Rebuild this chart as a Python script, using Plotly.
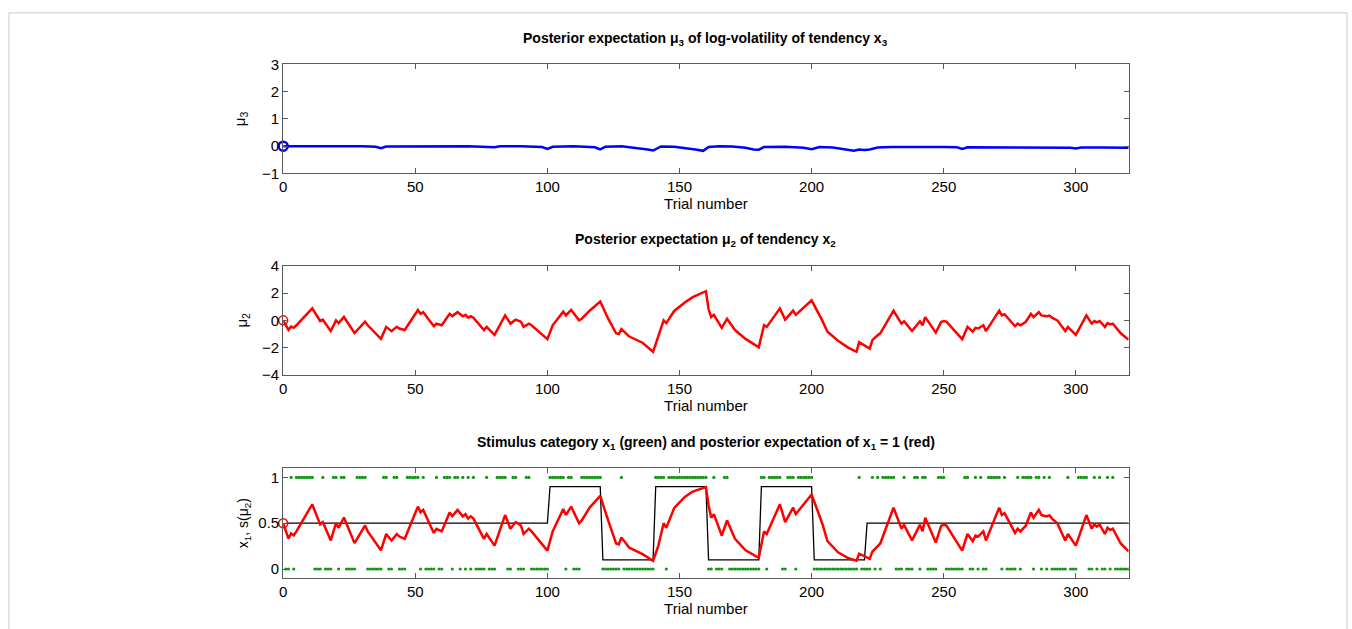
import numpy as np
import plotly.graph_objects as go

# ---------------- data ----------------
trial_ticks = [0, 50, 100, 150, 200, 250, 300]

# posterior expectation mu3 (top panel), read at these trials
mu3_trials = [0, 10, 20, 30, 35, 37, 39, 50, 60, 70, 80, 82, 90, 98, 100, 102, 110, 118, 120, 122,
              128, 133, 138, 140, 143, 148, 152, 156, 159, 161, 165, 170, 175, 178, 180, 182, 190,
              197, 200, 203, 208, 212, 216, 218, 220, 222, 225, 230, 240, 250, 255, 257, 259, 270,
              280, 290, 298, 300, 302, 310, 320]
mu3_values = [0.0, 0.0, 0.01, 0.0, -0.02, -0.07, -0.01, 0.0, 0.01, 0.0, -0.04, 0.0, 0.0, -0.03, -0.10,
              -0.02, 0.0, -0.04, -0.12, -0.02, 0.0, -0.05, -0.12, -0.16, -0.01, -0.02, -0.06, -0.12,
              -0.17, -0.03, 0.0, -0.01, -0.06, -0.12, -0.13, -0.03, -0.02, -0.06, -0.11, -0.03, -0.05,
              -0.10, -0.17, -0.12, -0.14, -0.12, -0.05, -0.03, -0.02, -0.03, -0.04, -0.10, -0.04,
              -0.04, -0.05, -0.05, -0.06, -0.08, -0.05, -0.05, -0.06]

# posterior expectation mu2 (middle panel), read at these trials
mu2_trials = [0, 2, 3, 4, 5, 11, 14, 15, 18, 20, 21, 23, 27, 31, 32, 37, 39, 41, 43, 44, 46, 51, 52,
              53, 57, 58, 60, 63, 64, 66, 68, 69, 70, 71, 72, 76, 77, 80, 84, 86, 88, 90, 91, 93, 94,
              100, 102, 106, 107, 109, 112, 113, 116, 120, 123, 126, 127, 128, 131, 136, 140, 142,
              144, 145, 148, 152, 155, 160, 161, 162, 163, 166, 168, 171, 175, 180, 182, 183, 188,
              190, 193, 194, 200, 204, 206, 210, 214, 217, 218, 222, 223, 225, 226, 231, 234, 235,
              238, 241, 242, 243, 247, 249, 250, 251, 257, 259, 261, 262, 263, 265, 266, 271, 272,
              273, 277, 278, 279, 281, 283, 284, 286, 287, 289, 290, 291, 293, 296, 297, 300, 304,
              306, 307, 308, 309, 311, 312, 313, 314, 317, 320]
mu2_values = [0.0, -0.70, -0.45, -0.55, -0.36, 0.88, -0.05, 0.05, -0.79, 0.0, -0.20, 0.25, -0.93,
              -0.10, -0.36, -1.36, -0.48, -0.79, -0.48, -0.60, -0.71, 0.76, 0.48, 0.60, -0.43, -0.25,
              -0.36, 0.48, 0.31, 0.60, 0.30, 0.40, 0.20, 0.30, 0.20, -0.71, -0.48, -1.07, 0.36, -0.24,
              0.05, -0.10, -0.48, -0.24, -0.36, -1.38, -0.36, 0.64, 0.36, 0.76, 0.0, 0.12, 0.71, 1.38,
              0.12, -0.95, -1.00, -0.64, -1.19, -1.64, -2.31, -1.07, 0.0, -0.20, 0.69, 1.31, 1.70,
              2.14, 0.83, 0.24, 0.40, -0.55, 0.12, -0.71, -1.36, -1.98, -0.36, -0.48, 0.88, 0.05,
              0.71, 0.40, 1.47, 0.0, -0.83, -1.50, -2.02, -2.31, -1.60, -2.07, -1.45, -1.10, -0.95,
              0.71, -0.24, -0.07, -0.79, -0.07, -0.36, 0.24, -0.90, -0.12, -0.05, -0.10, -1.38,
              -0.48, -0.83, -0.55, -0.60, -0.36, -0.79, 0.71, 0.36, 0.45, -0.43, -0.24, -0.36,
              -0.12, 0.48, 0.24, 0.60, 0.36, 0.30, 0.35, 0.20, 0.0, -0.79, -0.48, -1.07, 0.36, -0.24,
              -0.05, -0.15, -0.05, -0.48, -0.20, -0.30, -0.24, -0.95, -1.43]

# stimulus category x1 (green dots), trials 1..320
inputs_u = [
    0, 0, 1, 0, 1, 1, 1, 1, 1, 1,
    1, 0, 0, 0, 1, 0, 0, 0, 1, 1,
    0, 1, 1, 0, 0, 0, 0, 1, 1, 1,
    1, 0, 0, 0, 0, 0, 0, 1, 1, 0,
    0, 1, 1, 0, 0, 0, 1, 1, 1, 1,
    1, 0, 1, 0, 0, 0, 0, 1, 0, 0,
    1, 1, 1, 0, 1, 1, 0, 1, 0, 1,
    0, 1, 0, 0, 0, 0, 1, 0, 0, 0,
    1, 1, 1, 1, 0, 0, 1, 1, 0, 0,
    0, 1, 1, 0, 0, 0, 0, 0, 0, 0,
    1, 1, 1, 1, 1, 1, 0, 1, 1, 0,
    0, 0, 1, 1, 1, 1, 1, 1, 1, 1,
    0, 0, 0, 0, 0, 0, 0, 1, 0, 0,
    0, 0, 0, 0, 0, 0, 0, 0, 0, 0,
    1, 1, 1, 1, 0, 1, 1, 1, 1, 1,
    1, 1, 1, 1, 1, 1, 1, 1, 1, 1,
    0, 0, 1, 0, 0, 0, 1, 1, 0, 0,
    0, 0, 0, 0, 0, 0, 0, 0, 0, 0,
    1, 1, 0, 1, 1, 1, 1, 1, 0, 0,
    1, 1, 1, 0, 1, 1, 1, 1, 1, 1,
    0, 0, 0, 0, 0, 0, 0, 0, 0, 0,
    0, 0, 0, 0, 0, 0, 0, 1, 0, 0,
    0, 0, 1, 0, 1, 0, 1, 1, 1, 1,
    1, 0, 0, 0, 1, 0, 0, 0, 1, 1,
    0, 1, 1, 0, 0, 0, 0, 1, 1, 1,
    0, 0, 0, 0, 0, 0, 0, 1, 1, 0,
    0, 1, 0, 1, 0, 0, 1, 1, 1, 1,
    1, 0, 1, 0, 0, 0, 0, 1, 0, 1,
    1, 1, 1, 0, 1, 1, 0, 1, 0, 1,
    0, 0, 0, 0, 0, 0, 1, 0, 0, 0,
    1, 1, 1, 1, 0, 0, 1, 0, 1, 0,
    0, 1, 0, 1, 0, 0, 0, 0, 0, 0,
]

# true probability of x1 = 1 (black line), in blocks
block_lengths = [100, 20, 20, 20, 20, 20, 20, 100]
block_probs = [0.5, 0.9, 0.1, 0.9, 0.1, 0.9, 0.1, 0.5]

# ---------------- derived ----------------
u_trials = np.arange(1, len(inputs_u) + 1)
prob_trials = np.arange(1, sum(block_lengths) + 1)
prob_values = np.repeat(block_probs, block_lengths)
s_mu2 = 1.0 / (1.0 + np.exp(-np.array(mu2_values)))

W, H = 1352, 629
def px_x(p): return p / W
def px_y(p): return 1 - p / H

dom_x = [px_x(280), px_x(1128)]
dom_top = [px_y(169), px_y(57)]
dom_mid = [px_y(376), px_y(264)]
dom_bot = [px_y(585), px_y(472)]

FONT = "Liberation Sans, Arial, sans-serif"

fig = go.Figure()

fig.add_trace(go.Scatter(x=mu3_trials, y=mu3_values, mode="lines",
                         line=dict(color="rgb(0,0,255)", width=2.5),
                         xaxis="x", yaxis="y", showlegend=False))
fig.add_trace(go.Scatter(x=[mu3_trials[0]], y=[mu3_values[0]], mode="markers",
                         marker=dict(symbol="circle-open", size=9, color="rgb(0,0,255)",
                                     line=dict(width=2.5)),
                         cliponaxis=False, xaxis="x", yaxis="y", showlegend=False))

fig.add_trace(go.Scatter(x=mu2_trials, y=mu2_values, mode="lines",
                         line=dict(color="rgb(255,0,0)", width=2.5),
                         xaxis="x2", yaxis="y2", showlegend=False))
fig.add_trace(go.Scatter(x=[mu2_trials[0]], y=[mu2_values[0]], mode="markers",
                         marker=dict(symbol="circle-open", size=9, color="rgb(255,0,0)",
                                     line=dict(width=1.5)),
                         cliponaxis=False, xaxis="x2", yaxis="y2", showlegend=False))

fig.add_trace(go.Scatter(x=prob_trials, y=prob_values, mode="lines",
                         line=dict(color="black", width=1.3),
                         xaxis="x3", yaxis="y3", showlegend=False))
fig.add_trace(go.Scatter(x=u_trials, y=inputs_u, mode="markers",
                         marker=dict(symbol="circle", size=3.2, color="rgb(20,150,20)"),
                         xaxis="x3", yaxis="y3", showlegend=False))
fig.add_trace(go.Scatter(x=mu2_trials, y=s_mu2, mode="lines",
                         line=dict(color="rgb(255,0,0)", width=2.5),
                         xaxis="x3", yaxis="y3", showlegend=False))
fig.add_trace(go.Scatter(x=[mu2_trials[0]], y=[s_mu2[0]], mode="markers",
                         marker=dict(symbol="circle-open", size=9, color="rgb(255,0,0)",
                                     line=dict(width=1.5)),
                         cliponaxis=False, xaxis="x3", yaxis="y3", showlegend=False))

axis_common = dict(showline=True, linecolor="rgb(90,90,90)", linewidth=1, mirror="ticks",
                   ticks="inside", ticklen=5, tickcolor="rgb(90,90,90)", showgrid=False,
                   zeroline=False, tickfont=dict(family=FONT, size=15, color="black"))

def xax(domain, anchor):
    return dict(axis_common, domain=domain, anchor=anchor, range=[0, 320],
                tickvals=trial_ticks, ticktext=[str(t) for t in trial_ticks],
                title=dict(text="Trial number", font=dict(family=FONT, size=15, color="black"),
                           standoff=2))

fig.update_layout(
    width=W, height=H, margin=dict(l=0, r=0, t=0, b=0),
    paper_bgcolor="white", plot_bgcolor="white",
    xaxis=xax(dom_x, "y"),
    xaxis2=xax(dom_x, "y2"),
    xaxis3=xax(dom_x, "y3"),
    yaxis=dict(axis_common, domain=dom_top, anchor="x", range=[-1, 3],
               tickvals=[-1, 0, 1, 2, 3],
               title=dict(text="μ<sub>3</sub>", font=dict(family=FONT, size=15, color="black"),
                          standoff=12)),
    yaxis2=dict(axis_common, domain=dom_mid, anchor="x2", range=[-4, 4],
                tickvals=[-4, -2, 0, 2, 4],
                title=dict(text="μ<sub>2</sub>", font=dict(family=FONT, size=15, color="black"),
                           standoff=10)),
    yaxis3=dict(axis_common, domain=dom_bot, anchor="x3", range=[-0.1, 1.1],
                tickvals=[0, 0.5, 1], ticktext=["0", "0.5", "1"],
                title=dict(text="x<sub>1</sub>, s(μ<sub>2</sub>)",
                           font=dict(family=FONT, size=14, color="black"), standoff=6)),
)

titles = [
    ("<b>Posterior expectation μ<sub>3</sub> of log-volatility of tendency x<sub>3</sub></b>", dom_top[1]),
    ("<b>Posterior expectation μ<sub>2</sub> of tendency x<sub>2</sub></b>", dom_mid[1]),
    ("<b>Stimulus category x<sub>1</sub> (green) and posterior expectation of x<sub>1</sub> = 1 (red)</b>", dom_bot[1]),
]
for text, ytop in titles:
    fig.add_annotation(text=text, xref="paper", yref="paper", x=(dom_x[0] + dom_x[1]) / 2,
                       y=ytop + 15 / H, xanchor="center", yanchor="bottom", showarrow=False,
                       font=dict(family=FONT, size=14, color="black"))

# thin frame around the figure
fig.add_shape(type="rect", xref="paper", yref="paper", x0=px_x(5), x1=px_x(1347),
              y0=-0.05, y1=px_y(4), line=dict(color="rgb(200,200,200)", width=1))

fig.write_html("out.html")
